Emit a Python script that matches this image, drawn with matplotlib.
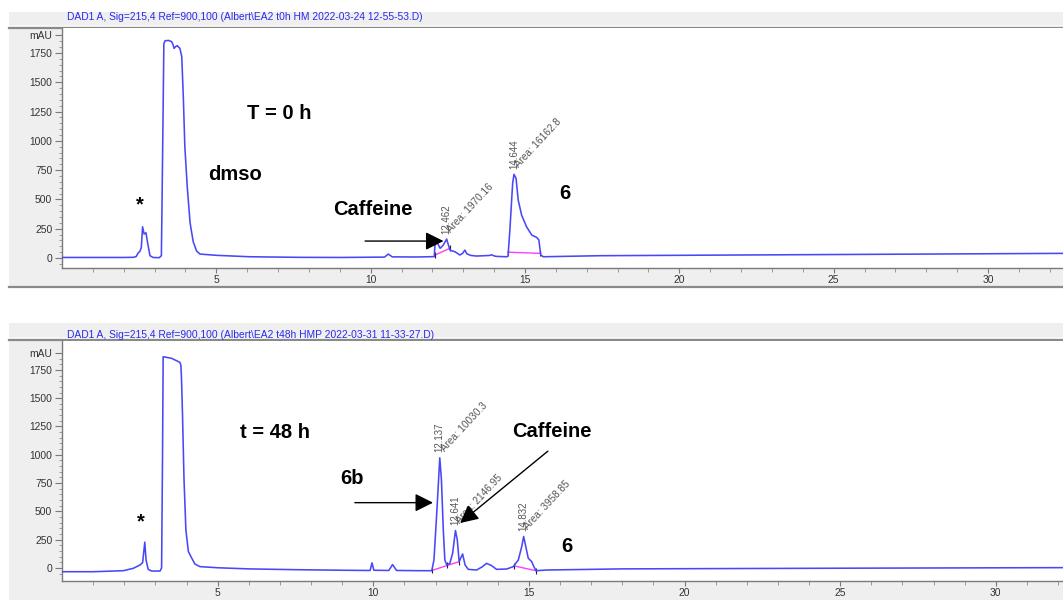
import matplotlib
matplotlib.use("Agg")
import numpy as np
import matplotlib.pyplot as plt
from matplotlib.patches import Rectangle
from matplotlib.lines import Line2D
from matplotlib.ticker import FixedLocator

plt.rcParams['font.family'] = ['Liberation Sans', 'DejaVu Sans']

# ---- run at t = 0 h : retention time (min) / absorbance (mAU) ----
t0_time = [0.0, 1.0, 2.0, 2.30, 2.40, 2.47, 2.52, 2.57, 2.61, 2.66, 2.72, 2.78,
           2.85, 2.95, 3.15, 3.22, 3.26, 3.30, 3.34, 3.45, 3.55, 3.60, 3.63,
           3.68, 3.73, 3.82, 3.88, 3.93, 3.98, 4.06, 4.15, 4.25, 4.36, 4.47,
           5.01, 6.09, 7.71, 9.0, 10.45, 10.57, 10.70, 11.5, 12.06, 12.08,
           12.12, 12.18, 12.25, 12.35, 12.462, 12.52, 12.57, 12.65, 12.73,
           12.89, 12.98, 13.05, 13.12, 13.25, 13.43, 13.85, 13.92, 14.0, 14.08,
           14.41, 14.45, 14.51, 14.60, 14.644, 14.71, 14.78, 14.89, 15.05,
           15.22, 15.38, 15.45, 15.51, 15.59, 17.45, 25.0, 32.5]
t0_signal = [5, 5, 5, 6, 12, 45, 55, 90, 267, 205, 216, 120,
             20, 5, 3, 20, 900, 1830, 1855, 1858, 1848, 1820, 1790,
             1805, 1813, 1790, 1720, 1378, 950, 600, 300, 140, 60, 34,
             23, 11, 6, 5, 8, 34, 10, 9, 12, 100,
             140, 120, 83, 110, 162, 110, 68, 60, 54,
             26, 40, 68, 35, 22, 17, 22, 28, 18, 14,
             11, 15, 239, 638, 715, 680, 495, 367, 267,
             196, 176, 154, 26, 11, 20, 30, 40]

# ---- run at t = 48 h ----
t48_time = [0.0, 1.0, 1.97, 2.29, 2.51, 2.59, 2.66, 2.70, 2.77, 2.88, 3.15,
            3.20, 3.23, 3.25, 3.52, 3.68, 3.79, 3.82, 3.84, 3.87, 3.92, 3.98,
            4.06, 4.17, 4.27, 4.43, 5.0, 6.0, 7.5, 9.0, 9.90, 9.96, 10.02,
            10.50, 10.62, 10.75, 11.5, 11.88, 11.95, 12.04, 12.137, 12.19,
            12.25, 12.30, 12.36, 12.46, 12.55, 12.641, 12.70, 12.76, 12.87,
            12.95, 13.05, 13.32, 13.50, 13.64, 13.80, 13.96, 14.29, 14.50,
            14.66, 14.77, 14.832, 14.90, 14.98, 15.09, 15.16, 15.23, 15.57,
            18.0, 25.0, 32.2]
t48_signal = [-33, -33, -24, -3, 27, 47, 228, 71, -12, -27, -27,
              0, 1000, 1866, 1852, 1831, 1816, 1790, 1668, 1373, 781, 337,
              145, 86, 35, 12, 2, -8, -15, -20, -22, 45, -20,
              -22, 30, -22, -24, -24, 71, 485, 973, 781,
              337, 71, 27, 41, 130, 331, 248, 56, 124,
              27, -12, -18, 10, 41, 21, -12, -9, 12,
              71, 189, 278, 189, 86, 56, 12, -24, -18,
              -8, -2, 3]

t0_title = "DAD1 A, Sig=215,4 Ref=900,100 (Albert\\EA2 t0h HM 2022-03-24 12-55-53.D)"
t48_title = "DAD1 A, Sig=215,4 Ref=900,100 (Albert\\EA2 t48h HMP 2022-03-31 11-33-27.D)"

# integrated peaks: retention time and reported area
t0_peak_rt = [12.462, 14.644]
t0_peak_area = ["1970.16", "16162.8"]
t48_peak_rt = [12.137, 12.641, 14.832]
t48_peak_area = ["10030.3", "2146.95", "3958.85"]

# integration baselines: (start time, start signal, end time, end signal)
t0_base = [(12.08, 26, 12.57, 83), (14.45, 50, 15.50, 40)]
t48_base = [(11.88, -22, 12.76, 56), (14.53, 18, 15.23, -24)]
t48_base_marks = [(12.36, 28)]

y_major = [0, 250, 500, 750, 1000, 1250, 1500, 1750]
y_major_labels = [str(v) for v in y_major]
x_major = [5, 10, 15, 20, 25, 30]

W, H = 1063, 600
fig = plt.figure(figsize=(W / 100, H / 100), dpi=100)
fig.patch.set_facecolor('white')

TRACE = '#4848f8'
PANEL = '#efefef'
EDGE = '#8a8a8a'


def fx(px):
    return px / W


def fy(py):
    return 1 - py / H


def frame(header_top, header_bot, line_y, panel_bot):
    fig.patches.append(Rectangle((fx(9), fy(header_bot)), 1 - fx(9), fy(header_top) - fy(header_bot),
                                 transform=fig.transFigure, facecolor=PANEL, edgecolor='none', zorder=-10))
    fig.patches.append(Rectangle((fx(9), fy(line_y)), 1 - fx(9), fy(header_bot) - fy(line_y),
                                 transform=fig.transFigure, facecolor='#f8f8f8', edgecolor='none', zorder=-10))
    fig.patches.append(Rectangle((fx(9), fy(panel_bot)), 1 - fx(9), fy(line_y) - fy(panel_bot),
                                 transform=fig.transFigure, facecolor=PANEL, edgecolor='none', zorder=-10))
    fig.lines.append(Line2D([fx(9), 1], [fy(line_y), fy(line_y)], transform=fig.transFigure,
                            color=EDGE, lw=1.6, zorder=-5))
    if panel_bot < H:
        fig.lines.append(Line2D([fx(9), 1], [fy(panel_bot), fy(panel_bot)], transform=fig.transFigure,
                                color=EDGE, lw=1.6, zorder=-5))


frame(12, 25, 28, 287)
frame(323, 337, 340, 602)

fig.text(fx(67), fy(17.5), t0_title, color='#2a2aee', fontsize=7.4, ha='left', va='center')
fig.text(fx(67), fy(335), t48_title, color='#2a2aee', fontsize=7.4, ha='left', va='center')


def make_axes(top_px, bot_px, ylim, xlim):
    ax = fig.add_axes([fx(62), fy(bot_px), 1 - fx(62), fy(top_px) - fy(bot_px)])
    ax.set_facecolor('white')
    ax.set_xlim(*xlim)
    ax.set_ylim(*ylim)
    for s in ('top', 'right'):
        ax.spines[s].set_visible(False)
    for s in ('left', 'bottom'):
        ax.spines[s].set_color('#7a7a7a')
        ax.spines[s].set_linewidth(1.0)
    ax.yaxis.set_major_locator(FixedLocator(y_major + [1900]))
    ax.set_yticklabels(y_major_labels + ['mAU'])
    ax.yaxis.set_minor_locator(FixedLocator(list(range(-50, 1901, 50))))
    ax.xaxis.set_major_locator(FixedLocator(x_major))
    ax.set_xticklabels([str(v) for v in x_major])
    ax.xaxis.set_minor_locator(FixedLocator(list(range(1, 33))))
    ax.tick_params(axis='y', which='major', length=5, width=0.8, color='#7a7a7a',
                   labelsize=7.4, labelcolor='#333333', pad=2)
    ax.tick_params(axis='y', which='minor', length=2.5, width=0.7, color='#9a9a9a')
    ax.tick_params(axis='x', which='major', length=3.8, width=0.8, color='#7a7a7a',
                   labelsize=7.4, labelcolor='#333333', pad=1.5)
    ax.tick_params(axis='x', which='minor', length=2.8, width=0.7, color='#9a9a9a')
    return ax


ax0 = make_axes(28, 268, (-85, 1964), (0, 32.43))
ax1 = make_axes(341, 581, (-115, 2005), (0, 32.16))


def draw_run(ax, time, signal, peak_rt, peak_area, bases, extra_marks=()):
    ax.plot(time, signal, color=TRACE, lw=1.15, zorder=3, solid_joinstyle='round')
    for (xa, ya, xb, yb) in bases:
        ax.plot([xa, xb], [ya, yb], color='#ff3cff', lw=1.0, zorder=2)
        ax.plot([xa, xb], [ya, yb], ls='none', marker='|', ms=5, mew=0.8, color='#222222', zorder=2)
    for (xm, ym) in extra_marks:
        ax.plot([xm], [ym], ls='none', marker='|', ms=5, mew=0.8, color='#222222', zorder=2)
    for rt, area in zip(peak_rt, peak_area):
        apex = float(np.interp(rt, time, signal))
        ax.annotate(f"{rt:.3f}", xy=(rt, apex), xytext=(0, 4), textcoords='offset points',
                    rotation=90, ha='center', va='bottom', fontsize=7, color='#555555', zorder=4)
        ax.annotate(f"Area: {area}", xy=(rt, apex), xytext=(4.5, 3.5), textcoords='offset points',
                    rotation=47, rotation_mode='anchor', ha='left', va='bottom',
                    fontsize=7.2, color='#555555', zorder=4)


draw_run(ax0, t0_time, t0_signal, t0_peak_rt, t0_peak_area, t0_base)
draw_run(ax1, t48_time, t48_signal, t48_peak_rt, t48_peak_area, t48_base, t48_base_marks)

bold = dict(fontsize=14.5, fontweight='bold', color='black', ha='center', va='center', zorder=5)
arrow = dict(arrowstyle='-|>,head_length=1.1,head_width=0.55', mutation_scale=10,
             color='black', lw=1.0, shrinkA=0, shrinkB=0)

# annotations, t = 0 h
ax0.text(7.03, 1238, "T = 0 h", **bold)
ax0.text(5.62, 709, "dmso", **bold)
ax0.text(2.53, 450, "*", **bold)
ax0.text(10.07, 418, "Caffeine", **bold)
ax0.text(16.29, 555, "6", **bold)
ax0.annotate("", xy=(12.36, 145), xytext=(9.82, 145), arrowprops=arrow, zorder=5)

# annotations, t = 48 h
ax1.text(6.84, 1198, "t = 48 h", **bold)
ax1.text(9.32, 790, "6b", **bold)
ax1.text(2.53, 408, "*", **bold)
ax1.text(15.74, 1207, "Caffeine", **bold)
ax1.text(16.22, 186, "6", **bold)
ax1.annotate("", xy=(11.92, 577), xytext=(9.41, 577), arrowprops=arrow, zorder=5)
ax1.annotate("", xy=(12.79, 397), xytext=(15.61, 1032), arrowprops=arrow, zorder=5)

fig.savefig("out.png", dpi=100, facecolor=fig.get_facecolor())
